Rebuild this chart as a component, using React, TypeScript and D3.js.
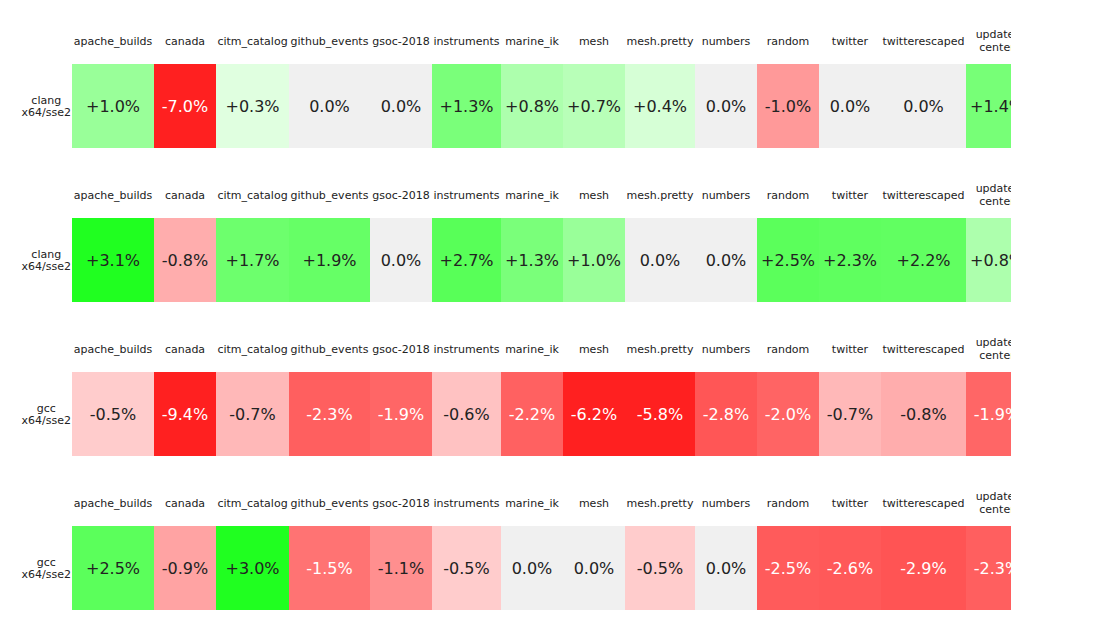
import React, { useMemo } from "react";
import * as d3 from "d3";

// benchmark files, one column each
const benchmarks = [
  "apache_builds", "canada", "citm_catalog", "github_events", "gsoc-2018",
  "instruments", "marine_ik", "mesh", "mesh.pretty", "numbers",
  "random", "twitter", "twitterescaped", "update-center",
];

const compilers = ["clang", "clang", "gcc", "gcc"];
const targets = ["x64/sse2", "x64/sse2", "x64/sse2", "x64/sse2"];

// change in %
const clangFirst = [1.0, -7.0, 0.3, 0.0, 0.0, 1.3, 0.8, 0.7, 0.4, 0.0, -1.0, 0.0, 0.0, 1.4];
const clangSecond = [3.1, -0.8, 1.7, 1.9, 0.0, 2.7, 1.3, 1.0, 0.0, 0.0, 2.5, 2.3, 2.2, 0.8];
const gccFirst = [-0.5, -9.4, -0.7, -2.3, -1.9, -0.6, -2.2, -6.2, -5.8, -2.8, -2.0, -0.7, -0.8, -1.9];
const gccSecond = [2.5, -0.9, 3.0, -1.5, -1.1, -0.5, 0.0, 0.0, -0.5, 0.0, -2.5, -2.6, -2.9, -2.3];
const rows = [clangFirst, clangSecond, gccFirst, gccSecond];

const width = 1100;
const height = 640;
const stripLeft = 72;
const stripRight = 1011;
const firstHeaderY = 41;
const firstStripY = 64;
const stripHeight = 84;
const rowStep = 154;
const minCol = 62;
const labelPad = 3;
const font = "'DejaVu Sans', sans-serif";
const labelSize = 11;
const valueSize = 16;
const ink = "#222";

// channel value for the "other" two channels, by magnitude
const shade = d3.scaleLinear<number>()
  .domain([0, 1.0, 1.3, 1.9, 2.9, 2.95])
  .range([255, 153, 122, 102, 84, 32])
  .clamp(true);

const cellColor = (v: number) => {
  if (v === 0) return "#f0f0f0";
  const o = Math.round(shade(Math.abs(v)));
  return v > 0 ? d3.rgb(o, 255, o).formatHex() : d3.rgb(255, o, o).formatHex();
};

const luminance = (hex: string) => {
  const c = d3.rgb(hex);
  const lin = (x: number) => {
    const s = x / 255;
    return s <= 0.03928 ? s / 12.92 : Math.pow((s + 0.055) / 1.055, 2.4);
  };
  return 0.2126 * lin(c.r) + 0.7152 * lin(c.g) + 0.0722 * lin(c.b);
};

const fmt = (v: number) => (v > 0 ? "+" : v < 0 ? "-" : "") + Math.abs(v).toFixed(1) + "%";

export default function App() {
  const layout = useMemo(() => {
    const ctx = document.createElement("canvas").getContext("2d")!;
    ctx.font = `${labelSize}px ${font}`;
    const measure = (s: string) => ctx.measureText(s).width;

    const cols = benchmarks.map((name) => {
      const pieces = name.match(/[^-]+-?/g) || [name];
      const w = Math.max(minCol, d3.max(pieces, measure)! + labelPad);
      const lines = measure(name) + labelPad <= w ? [name] : pieces;
      return { name, w, lines };
    });
    // whole-pixel edges so neighbouring cells meet without seams
    const edges = [0, ...d3.cumsum(cols, (c) => c.w)].map((e) => Math.round(stripLeft + e));
    const headW = measure("x64/sse2");
    return { cols, edges, headX: stripLeft - 1 - headW / 2 };
  }, []);

  const { cols, edges, headX } = layout;

  return (
    <svg width={width} height={height} style={{ position: "absolute", left: 0, top: 0 }}
      fontFamily={font}>
      <defs>
        <clipPath id="strip-clip">
          <rect x={0} y={0} width={stripRight} height={height} />
        </clipPath>
      </defs>
      {rows.map((vals, r) => {
        const headerY = firstHeaderY + r * rowStep;
        const top = firstStripY + r * rowStep;
        const mid = top + stripHeight / 2;
        return (
          <g key={r}>
            <text x={headX} y={mid} textAnchor="middle" fontSize={labelSize} fill={ink}>
              <tspan x={headX} dy={-6} dominantBaseline="central">{compilers[r]}</tspan>
              <tspan x={headX} dy={12} dominantBaseline="central">{targets[r]}</tspan>
            </text>
            <g clipPath="url(#strip-clip)">
              {cols.map((c, i) => {
                const x0 = edges[i];
                const w = edges[i + 1] - edges[i];
                const cx = x0 + w / 2;
                const fill = cellColor(vals[i]);
                const n = c.lines.length;
                return (
                  <g key={c.name}>
                    {c.lines.map((line, k) => (
                      <text key={k} x={cx} y={headerY + (k - (n - 1) / 2) * 12.5}
                        textAnchor="middle" dominantBaseline="central"
                        fontSize={labelSize} fill={ink}>{line}</text>
                    ))}
                    <rect x={x0} y={top} width={w} height={stripHeight} fill={fill}
                      shapeRendering="crispEdges" />
                    <text x={cx} y={mid} textAnchor="middle" dominantBaseline="central"
                      fontSize={valueSize} fill={luminance(fill) < 0.4 ? "#fff" : ink}>
                      {fmt(vals[i])}
                    </text>
                  </g>
                );
              })}
            </g>
          </g>
        );
      })}
    </svg>
  );
}
